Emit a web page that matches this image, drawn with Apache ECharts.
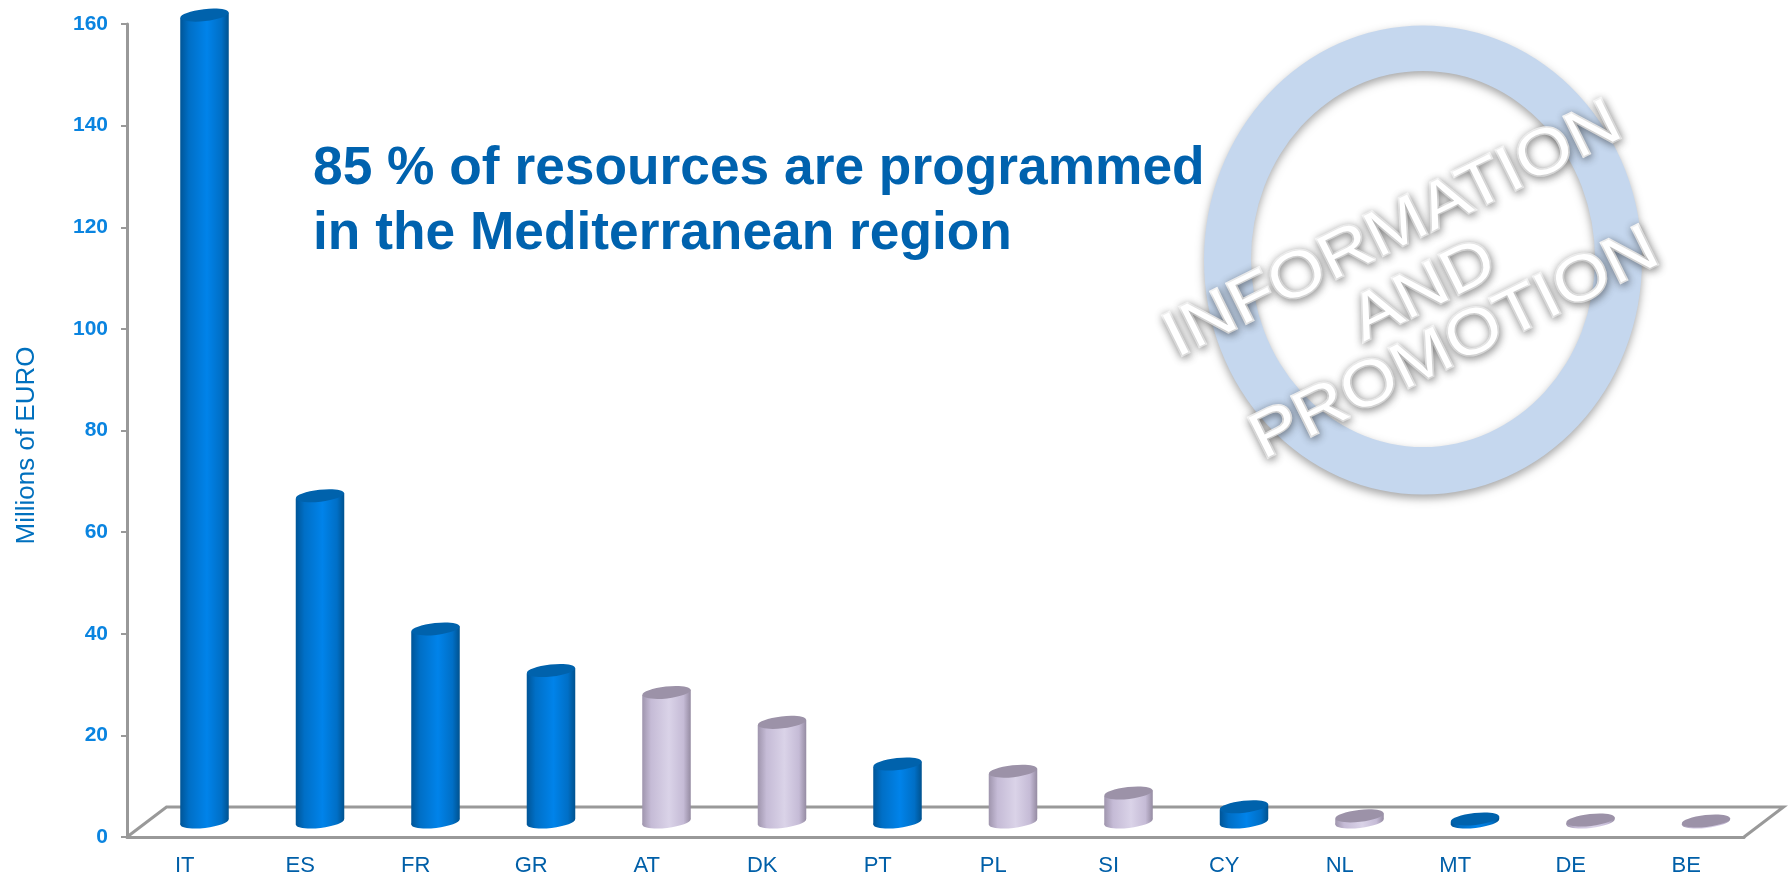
<!DOCTYPE html>
<html>
<head>
<meta charset="utf-8">
<title>Information and promotion</title>
<script src="https://cdn.jsdelivr.net/npm/echarts@6/dist/echarts.min.js"></script>
<style>
  html, body { margin: 0; background: #fff; }
  #chart { width: 1789px; height: 877px; }
</style>
</head>
<body>
<div id="chart"></div>
<script>
const categories = ['IT', 'ES', 'FR', 'GR', 'AT', 'DK', 'PT', 'PL', 'SI', 'CY', 'NL', 'MT', 'DE', 'BE']
const mediterranean = [158.8, 64.2, 38, 29.8, null, null, 11.4, null, null, 3, null, 0.6, null, null]
const others = [null, null, null, null, 25.5, 19.6, null, 10, 5.7, null, 1.2, null, 0.4, 0.2]
const yTicks = { min: 0, max: 160, interval: 20 }
const yTitle = 'Millions of EURO'
const headline = '85 % of resources are programmed\nin the Mediterranean region'

const FONT = '"Liberation Sans", Arial, sans-serif'
const depthX = 39.5
const depthY = 30
const tilt = 0.11

const blue = {
  top: '#0062AC',
  stops: [
    { offset: 0, color: '#005597' },
    { offset: 0.18, color: '#006FC6' },
    { offset: 0.55, color: '#0083EA' },
    { offset: 0.85, color: '#006FC6' },
    { offset: 1, color: '#00528F' }
  ]
}
const lilac = {
  top: '#9C92A8',
  stops: [
    { offset: 0, color: '#9F95AD' },
    { offset: 0.18, color: '#C5BBD6' },
    { offset: 0.55, color: '#DAD3E8' },
    { offset: 0.85, color: '#C5BBD6' },
    { offset: 1, color: '#958BA2' }
  ]
}

const cylinder = palette => (params, api) => {
  const idx = api.value(0)
  const val = api.value(1)
  const top = api.coord([idx, val])
  const base = api.coord([idx, 0])
  const rx = api.size([1, 0])[0] * 0.21
  const ry = 6
  const cx = base[0] + depthX / 2
  const yb = base[1] - depthY / 2
  const yt = top[1] - depthY / 2
  const dy = rx * Math.sin(tilt)
  const fill = { type: 'linear', x: 0, y: 0, x2: 1, y2: 0, colorStops: palette.stops }
  return {
    type: 'group',
    children: [
      {
        type: 'ellipse',
        x: cx, y: yb, rotation: tilt,
        shape: { cx: 0, cy: 0, rx, ry },
        style: { fill }
      },
      {
        type: 'polygon',
        shape: { points: [[cx - rx, yt + dy], [cx + rx, yt - dy], [cx + rx, yb - dy], [cx - rx, yb + dy]] },
        style: { fill }
      },
      {
        type: 'ellipse',
        x: cx, y: yt, rotation: tilt,
        shape: { cx: 0, cy: 0, rx, ry },
        style: { fill: palette.top }
      }
    ]
  }
}

// floor of the fake 3d box, hangs off the grid rect
const floor = params => {
  const r = params.coordSys
  const yf = r.y + r.height
  const yb = yf - depthY
  return {
    type: 'polyline',
    shape: { points: [[r.x, yf], [r.x + depthX, yb], [r.x + r.width + depthX, yb], [r.x + r.width, yf]] },
    style: { fill: null, stroke: '#999', lineWidth: 3 }
  }
}

const toSeriesData = list => list.map((v, i) => [i, v]).filter(d => d[1] !== null)

const stampText = (text, x, y) => ({
  type: 'text',
  x, y,
  rotation: 0.46,
  scaleX: 1.13,
  z: 20,
  style: {
    text,
    x: 0,
    y: 0,
    align: 'center',
    verticalAlign: 'middle',
    fill: '#fff',
    stroke: '#fff',
    lineWidth: 3,
    font: '64px ' + FONT,
    textShadowColor: 'rgba(0,0,0,0.4)',
    textShadowBlur: 8,
    textShadowOffsetX: 1,
    textShadowOffsetY: 2
  }
})

// ring as one compound path so its shadow falls inside the hole too
echarts.graphic.registerShape('promoRing', echarts.graphic.extendPath(
  'M 1204 260 A 219 234.5 0 1 1 1642 260 A 219 234.5 0 1 1 1204 260 Z ' +
  'M 1251 259 A 172 188 0 1 0 1595 259 A 172 188 0 1 0 1251 259 Z'
))

const chart = echarts.init(document.getElementById('chart'))

chart.setOption({
  animation: false,
  backgroundColor: '#fff',
  grid: { left: 127, right: 45, top: 24, bottom: 40, outerBoundsMode: 'none' },
  xAxis: {
    type: 'category',
    data: categories,
    axisLine: { lineStyle: { color: '#999', width: 3 } },
    axisTick: { length: 6, alignWithLabel: false, lineStyle: { color: '#999', width: 2 } },
    axisLabel: { color: '#005FA8', fontFamily: FONT, fontSize: 22, margin: 18 }
  },
  yAxis: {
    type: 'value',
    min: yTicks.min,
    max: yTicks.max,
    interval: yTicks.interval,
    name: yTitle,
    nameLocation: 'middle',
    nameGap: 87,
    nameTextStyle: { color: '#0070BE', fontFamily: FONT, fontSize: 26, padding: [0, 30, 0, 0] },
    axisLine: { show: true, lineStyle: { color: '#999', width: 3 } },
    axisTick: { show: true, length: 6, lineStyle: { color: '#999', width: 2 } },
    axisLabel: { color: '#0A84E0', fontFamily: FONT, fontSize: 21, fontWeight: 'bold', margin: 19 },
    splitLine: { show: false }
  },
  graphic: [
    {
      type: 'text',
      x: 313,
      y: 137,
      z: 10,
      style: {
        text: headline,
        fill: '#0062AE',
        font: 'bold 53.3px ' + FONT,
        lineHeight: 65
      }
    },
    {
      type: 'promoRing',
      z: 5,
      style: {
        fill: '#C5D7EE',
        shadowColor: 'rgba(0,0,0,0.35)',
        shadowBlur: 8,
        shadowOffsetY: 4
      }
    },
    stampText('INFORMATION', 1393, 231),
    stampText('AND', 1424, 292),
    stampText('PROMOTION', 1455, 345)
  ],
  series: [
    { type: 'custom', silent: true, z: 1, data: [[0, 0]], renderItem: floor },
    { name: 'Mediterranean', type: 'custom', z: 3, data: toSeriesData(mediterranean), renderItem: cylinder(blue) },
    { name: 'Other', type: 'custom', z: 3, data: toSeriesData(others), renderItem: cylinder(lilac) }
  ]
})

window.addEventListener('resize', () => chart.resize())
</script>
</body>
</html>
